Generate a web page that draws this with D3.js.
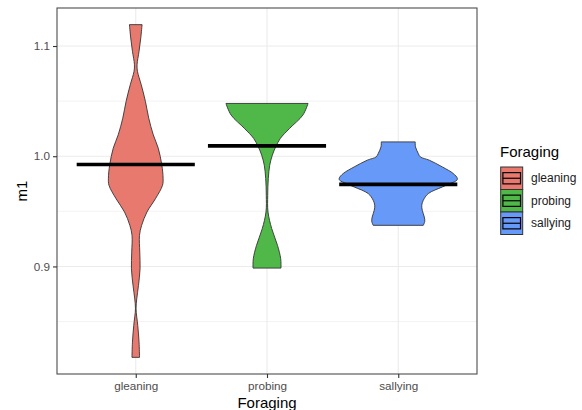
<!DOCTYPE html>
<html>
<head>
<meta charset="utf-8">
<script src="https://cdn.jsdelivr.net/npm/d3@7"></script>
<style>
  html, body { margin: 0; padding: 0; background: #fff; }
  svg { display: block; font-family: "Liberation Sans", Arial, sans-serif; }
</style>
</head>
<body>
<svg id="chart" width="582" height="410"></svg>
<script>
// Foraging groups and the median m1 of each
const categories = ["gleaning", "probing", "sallying"];
const medians = [0.9925, 1.0094, 0.9745];
const colors = ["#E8796F", "#4FB848", "#6699F8"];

// Kernel density profile of m1 for each group (m1 level, relative density)
const gleaningM1 = [1.1194, 1.1073, 1.0952, 1.0830, 1.0770, 1.0648, 1.0497, 1.0345, 1.0194, 1.0073,
                    0.9921, 0.9800, 0.9736, 0.9615, 0.9494, 0.9373, 0.9282, 0.9130, 0.8979, 0.8827,
                    0.8706, 0.8615, 0.8464, 0.8312, 0.8175];
const gleaningDensity = [0.107, 0.085, 0.056, 0.022, 0.029, 0.093, 0.164, 0.220, 0.297, 0.381,
                         0.441, 0.463, 0.453, 0.334, 0.190, 0.100, 0.063, 0.068, 0.073, 0.046,
                         0.017, 0.005, 0.034, 0.056, 0.064];

const probingM1 = [1.0479, 1.0373, 1.0252, 1.0161, 1.0085, 1.0009, 0.9918, 0.9797, 0.9645, 0.9494,
                   0.9343, 0.9191, 0.9070, 0.8985];
const probingDensity = [0.695, 0.607, 0.381, 0.225, 0.147, 0.090, 0.046, 0.022, 0.012, 0.017,
                        0.080, 0.178, 0.232, 0.237];

const sallyingM1 = [1.0130, 1.0085, 1.0025, 0.9994, 0.9964, 0.9903, 0.9843, 0.9800, 0.9782, 0.9752,
                    0.9721, 0.9661, 0.9600, 0.9555, 0.9509, 0.9448, 0.9410, 0.9373];
const sallyingDensity = [0.288, 0.292, 0.339, 0.373, 0.525, 0.746, 0.932, 1.000, 0.992, 0.881,
                         0.746, 0.508, 0.424, 0.398, 0.407, 0.441, 0.449, 0.424];

const yTicks = [0.9, 1.0, 1.1];
const yMinor = [0.85, 0.95, 1.05];

const profiles = [
  { m1: gleaningM1, density: gleaningDensity },
  { m1: probingM1, density: probingDensity },
  { m1: sallyingM1, density: sallyingDensity }
];

const svg = d3.select("#chart");
const panel = { left: 57, right: 477, top: 8, bottom: 374 };

// y extent of all observations, expanded by 5% on each side
const allM1 = [].concat(gleaningM1, probingM1, sallyingM1);
const [lo, hi] = d3.extent(allM1);
const pad = (hi - lo) * 0.05;
const y = d3.scaleLinear().domain([lo - pad, hi + pad]).range([panel.bottom, panel.top]);

const x = d3.scalePoint().domain(categories).range([panel.left, panel.right]).padding(0.6);
const step = x.step();

const maxDensity = d3.max([].concat(gleaningDensity, probingDensity, sallyingDensity));
const w = d3.scaleLinear().domain([0, maxDensity]).range([0, step * 0.45]);

// grid
const grid = svg.append("g");
grid.selectAll(".minor").data(yMinor).join("line")
  .attr("x1", panel.left).attr("x2", panel.right)
  .attr("y1", d => y(d)).attr("y2", d => y(d))
  .attr("stroke", "#EFEFEF").attr("stroke-width", 0.8);
grid.selectAll(".major").data(yTicks).join("line")
  .attr("x1", panel.left).attr("x2", panel.right)
  .attr("y1", d => y(d)).attr("y2", d => y(d))
  .attr("stroke", "#EBEBEB").attr("stroke-width", 1.1);
grid.selectAll(".vmajor").data(categories).join("line")
  .attr("x1", d => x(d)).attr("x2", d => x(d))
  .attr("y1", panel.top).attr("y2", panel.bottom)
  .attr("stroke", "#EBEBEB").attr("stroke-width", 1.1);

// violins
const area = d3.area()
  .y(d => y(d.m1))
  .x0(d => d.cx - w(d.dens))
  .x1(d => d.cx + w(d.dens))
  .curve(d3.curveCatmullRom);

profiles.forEach((p, i) => {
  const cx = x(categories[i]);
  const pts = p.m1.map((v, j) => ({ m1: v, dens: p.density[j], cx }));
  svg.append("path")
    .attr("d", area(pts))
    .attr("fill", colors[i])
    .attr("stroke", "#333333")
    .attr("stroke-width", 0.9);
});

// median bars
svg.append("g").selectAll("line").data(categories).join("line")
  .attr("x1", (d, i) => x(d) - step * 0.45)
  .attr("x2", (d, i) => x(d) + step * 0.45)
  .attr("y1", (d, i) => y(medians[i]))
  .attr("y2", (d, i) => y(medians[i]))
  .attr("stroke", "#000").attr("stroke-width", 3.6);

// panel border
svg.append("rect")
  .attr("x", panel.left).attr("y", panel.top)
  .attr("width", panel.right - panel.left).attr("height", panel.bottom - panel.top)
  .attr("fill", "none").attr("stroke", "#4d4d4d").attr("stroke-width", 1.1);

// axes
const yAxis = svg.append("g")
  .attr("transform", `translate(${panel.left},0)`)
  .call(d3.axisLeft(y).tickValues(yTicks).tickFormat(d3.format(".1f")).tickSize(4).tickPadding(3));
const xAxis = svg.append("g")
  .attr("transform", `translate(0,${panel.bottom})`)
  .call(d3.axisBottom(x).tickSize(4).tickPadding(4));
[yAxis, xAxis].forEach(a => {
  a.select(".domain").remove();
  a.selectAll(".tick line").attr("stroke", "#333333").attr("stroke-width", 1.1);
  a.selectAll(".tick text").attr("fill", "#4D4D4D")
    .style("font-size", "11.7px").style("font-family", "'Liberation Sans', Arial, sans-serif");
});

// axis titles
svg.append("text")
  .attr("x", x("probing")).attr("y", 407.5)
  .attr("text-anchor", "middle")
  .style("font-size", "15px").attr("fill", "#000")
  .text("Foraging");
svg.append("text")
  .attr("transform", `translate(27,${(panel.top + panel.bottom) / 2}) rotate(-90)`)
  .attr("text-anchor", "middle")
  .style("font-size", "15px").attr("fill", "#000")
  .text("m1");

// legend
const lg = svg.append("g").attr("transform", "translate(500,0)");
lg.append("text").attr("x", 0).attr("y", 157).style("font-size", "15px").attr("fill", "#000").text("Foraging");
const keySize = 22.5;
categories.forEach((c, i) => {
  const ky = 167 + i * keySize;
  lg.append("rect").attr("x", 0.7).attr("y", ky).attr("width", 22).attr("height", keySize)
    .attr("fill", colors[i]).attr("stroke", "#333333").attr("stroke-width", 1);
  lg.append("rect").attr("x", 0.7 + 22 * 0.1).attr("y", ky + keySize * 0.25)
    .attr("width", 22 * 0.8).attr("height", keySize * 0.5)
    .attr("fill", "none").attr("stroke", "#000").attr("stroke-width", 1.2);
  lg.append("line").attr("x1", 0.7 + 22 * 0.1).attr("x2", 0.7 + 22 * 0.9)
    .attr("y1", ky + keySize / 2).attr("y2", ky + keySize / 2)
    .attr("stroke", "#000").attr("stroke-width", 1.2);
  lg.append("text").attr("x", 31).attr("y", ky + keySize / 2 + 4.2)
    .style("font-size", "12px").attr("fill", "#1A1A1A").text(c);
});
</script>
</body>
</html>
